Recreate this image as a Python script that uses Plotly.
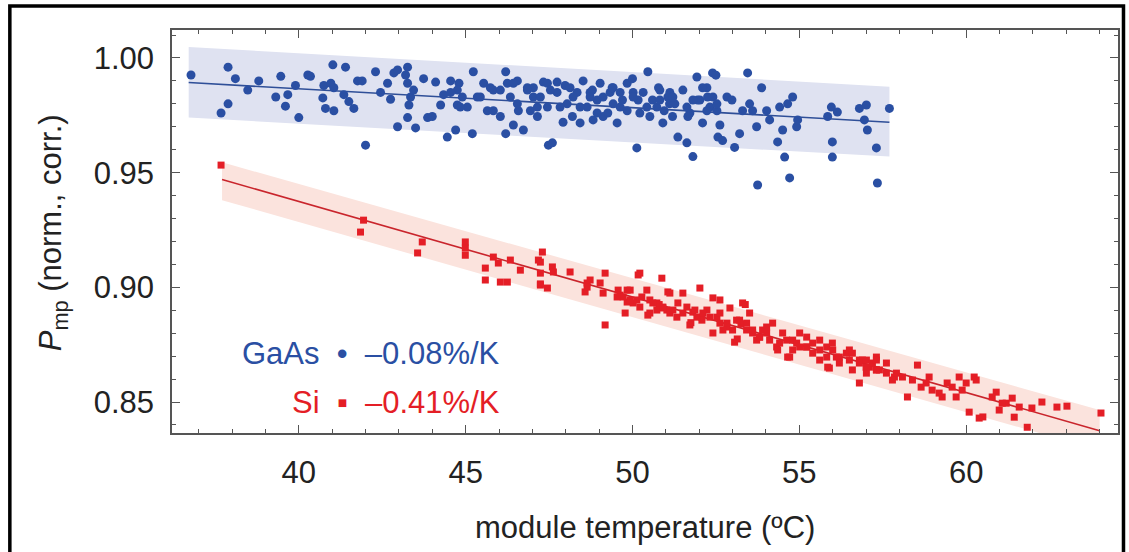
import plotly.graph_objects as go

# ---------------- data ----------------
gaas_temp = [36.77, 37.88, 37.67, 37.88, 38.1, 38.47, 38.8, 39.31, 39.46, 39.6, 39.67, 39.9, 40.0, 40.27, 40.35,
             40.72, 40.75, 40.96, 41.02, 41.05, 40.8, 41.05, 41.4, 41.35, 41.5, 41.65, 41.76, 41.9, 42.0, 42.3,
             42.45, 42.66, 42.75, 42.85, 42.96, 43.26, 43.5, 43.35, 43.3, 43.26, 43.2, 42.96, 43.26, 43.44, 43.74,
             43.86, 44.0, 44.1, 44.25, 44.34, 44.45, 44.55, 44.7, 44.75, 44.8, 44.9, 45.05, 45.2, 45.23, 45.35,
             45.54, 45.65, 45.83, 46.04, 46.2, 46.2, 46.25, 46.34, 46.43, 46.55, 46.58, 46.73, 46.85, 46.94, 47.03,
             47.15, 47.33, 47.45, 47.48, 47.6, 47.74, 47.92, 47.98, 48.04, 48.13, 48.2, 48.34, 48.43, 48.52, 48.64,
             48.73, 48.8, 48.82, 48.94, 49.03, 49.12, 49.26, 49.33, 49.39, 49.54, 49.63, 49.7, 49.84, 50.0, 50.02,
             50.13, 50.17, 50.22, 50.32, 50.46, 50.52, 50.6, 50.73, 50.78, 50.82, 50.91, 50.95, 51.06, 51.11, 51.2,
             51.27, 51.36, 51.51, 51.63, 51.66, 51.72, 51.81, 51.93, 51.95, 52.02, 52.1, 52.23, 52.25, 52.32, 52.4,
             52.5, 52.53, 52.56, 52.62, 52.7, 52.83, 52.98, 53.06, 53.21, 53.3, 53.45, 53.51, 53.6, 53.72, 53.75,
             53.87, 54.02, 54.11, 54.35, 54.41, 54.5, 54.56, 54.65, 54.71, 54.8, 54.92, 54.95, 55.85, 55.96, 55.99,
             55.99, 56.14, 56.8, 57.01, 56.95, 57.04, 57.31, 57.34, 57.7,
             44.75, 44.84, 45.74, 45.83, 46.43, 46.55, 47.03, 47.15, 47.45, 47.74, 48.94, 49.42, 49.84, 51.12,
             52.1, 52.41,
             44.55, 45.44, 46.04, 46.85, 47.24, 47.54, 47.83, 48.22, 48.43, 48.73, 49.12, 49.42, 49.63, 50.02,
             50.43, 50.82, 51.21, 51.63, 51.81, 52.23, 52.53]
gaas_pmp = [0.9926, 0.996, 0.976, 0.980, 0.991, 0.986, 0.990, 0.983, 0.992, 0.979, 0.984, 0.988, 0.974, 0.9926, 0.992,
            0.9826, 0.988, 0.989, 0.997, 0.987, 0.978, 0.977, 0.996, 0.984, 0.981, 0.978, 0.990, 0.990, 0.962, 0.994,
            0.985, 0.989, 0.982, 0.9935, 0.970, 0.974, 0.9695, 0.983, 0.9795, 0.989, 0.9926, 0.9948, 0.996, 0.986, 0.991,
            0.974, 0.9745, 0.9895, 0.9795, 0.984, 0.9655, 0.990, 0.9686, 0.9795, 0.989, 0.983, 0.9786, 0.967, 0.994, 0.983,
            0.989, 0.977, 0.986, 0.9745, 0.994, 0.967, 0.989, 0.983, 0.9708, 0.990, 0.977, 0.9686, 0.987, 0.977, 0.983,
            0.9745, 0.9895, 0.9786, 0.962, 0.963, 0.9895, 0.972, 0.988, 0.980, 0.987, 0.9745, 0.985, 0.9717, 0.990, 0.9786,
            0.985, 0.986, 0.973, 0.9817, 0.989, 0.9745, 0.976, 0.985, 0.987, 0.9717, 0.9786, 0.9817, 0.989, 0.991, 0.985,
            0.9608, 0.9817, 0.976, 0.985, 0.994, 0.9745, 0.9817, 0.9786, 0.987, 0.986, 0.9717, 0.977, 0.983, 0.980, 0.9745,
            0.980, 0.9655, 0.986, 0.963, 0.9745, 0.976, 0.957, 0.9917, 0.9817, 0.9817, 0.9717, 0.987, 0.983, 0.9786, 0.9935,
            0.9925, 0.977, 0.9655, 0.9708, 0.964, 0.983, 0.9817, 0.961, 0.967, 0.977, 0.9935, 0.980, 0.977, 0.970, 0.9446,
            0.987, 0.977, 0.973, 0.9634, 0.9786, 0.9686, 0.9568, 0.980, 0.9477, 0.983, 0.970, 0.973, 0.9745, 0.9786, 0.9634,
            0.9568, 0.9764, 0.978, 0.9795, 0.973, 0.9686, 0.9608, 0.9455, 0.978,
            0.986, 0.9786, 0.987, 0.977, 0.989, 0.980, 0.987, 0.9786, 0.989, 0.985, 0.976, 0.987, 0.977, 0.985,
            0.987, 0.983,
            0.985, 0.983, 0.986, 0.986, 0.983, 0.986, 0.9786, 0.983, 0.9786, 0.983, 0.983, 0.980, 0.985, 0.983,
            0.9786, 0.9817, 0.983, 0.9786, 0.9817, 0.977, 0.980]

si_temp = [37.67, 41.94, 41.85, 43.56, 43.7, 44.99, 44.99, 44.99, 45.59, 45.59, 45.83, 45.98, 46.04, 46.25, 46.34,
           46.64, 47.18, 47.24, 47.3, 47.24, 47.45, 47.6, 47.63, 48.13, 48.58, 48.64, 48.73, 49.03, 49.12, 49.18,
           49.18, 49.57, 49.63, 49.78, 49.84, 49.84, 50.13, 50.17, 50.22, 50.28, 50.43, 50.46, 50.52, 50.52, 50.73,
           50.8, 50.88, 50.91, 51.03, 51.06, 51.12, 51.12, 51.33, 51.51, 51.63, 51.72, 51.75, 51.81, 51.87, 52.02,
           52.08, 52.08, 52.23, 52.41, 52.41, 52.53, 52.62, 52.62, 52.83, 52.83, 52.92, 53.06, 53.14, 53.21, 53.25,
           53.3, 53.38, 53.42, 53.51, 53.6, 53.72, 53.81, 53.9, 54.02, 54.2, 54.32, 54.35, 54.5, 54.65, 54.71,
           54.8, 55.01, 55.01, 55.22, 55.22, 55.4, 55.61, 55.61, 55.82, 55.85, 55.9, 55.99, 56.11, 56.2, 56.41,
           56.5, 56.59, 56.8, 56.8, 56.89, 57.01, 57.1, 57.31, 57.31, 57.4, 57.61, 57.85, 57.91, 58.24, 58.54,
           58.65, 58.89, 59.19, 59.43, 59.7, 59.79, 60.0, 60.09, 60.24, 60.39, 60.5, 60.9, 60.99, 61.2, 61.38,
           61.44, 61.83, 61.97, 62.27, 62.72, 62.84, 63.02, 64.04,
           49.72, 49.93, 50.02, 50.22, 50.61, 50.73, 50.91, 51.21, 51.36, 51.51, 51.93, 52.11, 52.32, 52.62,
           52.71, 53.0, 53.12, 53.42, 53.6, 53.81, 54.02, 54.11, 54.41, 54.62, 54.8, 54.92, 55.22, 55.4,
           55.61, 55.82, 56.0, 56.2, 56.5, 56.59, 56.8, 57.01, 57.19, 57.31,
           57.0, 57.31, 57.61, 57.79, 58.09, 58.39, 58.8, 58.98, 59.28, 59.58, 59.88, 60.3, 60.78, 61.08, 61.59,
           47.24, 47.24, 48.64, 49.54, 49.93]
si_pmp = [0.9533, 0.9293, 0.9241, 0.915, 0.9198, 0.9198, 0.9171, 0.914, 0.9084, 0.9032, 0.9132, 0.9106, 0.9023, 0.9023, 0.9119,
          0.9075, 0.9119, 0.9062, 0.9154, 0.901, 0.8997, 0.9089, 0.9067, 0.9067, 0.898, 0.9019, 0.9032, 0.9019, 0.8975, 0.9062,
          0.8836, 0.8988, 0.8966, 0.8888, 0.8988, 0.8936, 0.8945, 0.9054, 0.9062, 0.8958, 0.8988, 0.8879, 0.8945, 0.8888, 0.8932,
          0.8925, 0.904, 0.891, 0.8901, 0.898, 0.8975, 0.8888, 0.887, 0.8975, 0.8914, 0.8836, 0.8846, 0.8892, 0.8901, 0.8997,
          0.887, 0.8857, 0.8901, 0.8801, 0.8954, 0.887, 0.8888, 0.8945, 0.8844, 0.8827, 0.891, 0.8761, 0.8775, 0.8857, 0.884,
          0.8932, 0.8925, 0.8814, 0.8888, 0.8814, 0.877, 0.8783, 0.8814, 0.8827, 0.8844, 0.874, 0.8727, 0.8801, 0.8696, 0.8696,
          0.877, 0.8801, 0.874, 0.874, 0.8783, 0.8713, 0.877, 0.8683, 0.874, 0.8652, 0.8648, 0.8757, 0.8696, 0.8696, 0.8713,
          0.8727, 0.864, 0.8583, 0.8683, 0.8683, 0.8683, 0.8652, 0.864, 0.8696, 0.864, 0.867, 0.8609, 0.8626, 0.8522, 0.8661,
          0.8565, 0.8609, 0.8539, 0.8583, 0.8522, 0.8609, 0.8583, 0.8456, 0.8609, 0.843, 0.8435, 0.8543, 0.8465, 0.8495, 0.8517,
          0.8434, 0.839, 0.8474, 0.85, 0.8478, 0.8347, 0.8482, 0.8452,
          0.8958, 0.8988, 0.8932, 0.8914, 0.8932, 0.8901, 0.8914, 0.8901, 0.8932, 0.8888, 0.887, 0.8888, 0.887, 0.8844,
          0.8814, 0.8814, 0.8857, 0.8844, 0.8801, 0.8783, 0.8801, 0.877, 0.8757, 0.877, 0.8727, 0.8757, 0.874, 0.8757,
          0.8727, 0.8696, 0.8727, 0.867, 0.8683, 0.8713, 0.867, 0.8626, 0.867, 0.864,
          0.8652, 0.8683, 0.8626, 0.8596, 0.8609, 0.8596, 0.8583, 0.8552, 0.8522, 0.8565, 0.8552, 0.8596, 0.8522, 0.8495, 0.8478,
          0.911, 0.9015, 0.9001, 0.8958, 0.8945]

# linear fits and confidence bands
gaas_fit_temp = [36.7, 57.7]
gaas_fit_pmp = [0.9893, 0.9720]
gaas_band_upper = [1.0048, 0.9875]
gaas_band_lower = [0.9740, 0.9570]

si_fit_temp = [37.7, 64.0]
si_fit_pmp = [0.9470, 0.8375]
si_band_upper = [0.9545, 0.8465]
si_band_lower = [0.9380, 0.8290]

x_ticks = [40, 45, 50, 55, 60]
y_ticks = [0.85, 0.90, 0.95, 1.00]

gaas_label = "GaAs"
gaas_coef = "\u20130.08%/K"
si_label = "Si"
si_coef = "\u20130.41%/K"

# ---------------- figure ----------------
BLUE = "#2a4fa3"
RED = "#e41e26"
FONT = "Liberation Sans, Arial, Helvetica, sans-serif"
FS = 31

fig = go.Figure()

# bands
fig.add_trace(go.Scatter(x=gaas_fit_temp + gaas_fit_temp[::-1],
                         y=gaas_band_upper + gaas_band_lower[::-1],
                         fill="toself", fillcolor="#dfe2f1", line=dict(width=0),
                         mode="lines", hoverinfo="skip", showlegend=False))
fig.add_trace(go.Scatter(x=si_fit_temp + si_fit_temp[::-1],
                         y=si_band_upper + si_band_lower[::-1],
                         fill="toself", fillcolor="#fbe3dd", line=dict(width=0),
                         mode="lines", hoverinfo="skip", showlegend=False))
# fit lines
fig.add_trace(go.Scatter(x=gaas_fit_temp, y=gaas_fit_pmp, mode="lines",
                         line=dict(color="#2f4f98", width=1.6), showlegend=False))
fig.add_trace(go.Scatter(x=si_fit_temp, y=si_fit_pmp, mode="lines",
                         line=dict(color="#c9252c", width=1.6), showlegend=False))
# points
fig.add_trace(go.Scatter(x=gaas_temp, y=gaas_pmp, mode="markers", name="GaAs",
                         marker=dict(symbol="circle", size=9, color=BLUE, line=dict(width=0)),
                         showlegend=False))
fig.add_trace(go.Scatter(x=si_temp, y=si_pmp, mode="markers", name="Si",
                         marker=dict(symbol="square", size=7, color=RED, line=dict(width=0)),
                         showlegend=False, cliponaxis=False))

axis_common = dict(
    showline=True, linecolor="#555555", linewidth=1.5, mirror="ticks",
    ticks="inside", ticklen=8, tickwidth=1.2, tickcolor="#555555",
    showgrid=False, zeroline=False,
    tickfont=dict(family=FONT, size=FS, color="#222222"),
)

fig.update_xaxes(range=[36.2, 64.55], tickvals=x_ticks, ticklabelstandoff=11,
                 minor=dict(ticks="inside", dtick=1, ticklen=4, tickcolor="#555555", tickwidth=1),
                 **axis_common)
fig.update_yaxes(range=[0.8365, 1.0122], tickvals=y_ticks, tickformat=".2f", ticklabelstandoff=10,
                 minor=dict(ticks="inside", dtick=0.01, ticklen=4, tickcolor="#555555", tickwidth=1),
                 **axis_common)

PL, PR, PT, PB = 172, 1120, 30, 433
W, H = 1129, 552
def px(x):
    return (x - PL) / (PR - PL)
def py(y):
    return (PB - y) / (PB - PT)

NB = "\u00a0"
annotations = [
    dict(x=px(53), y=py(233), xref="paper", yref="paper", textangle=-90,
         text="<i>P</i><sub>mp</sub> (norm., corr.)", showarrow=False,
         font=dict(family=FONT, size=FS, color="#222222"), xanchor="center", yanchor="middle"),
    dict(x=px(646), y=py(527), xref="paper", yref="paper",
         text="module temperature (\u00baC)", showarrow=False,
         font=dict(family=FONT, size=FS, color="#222222"), xanchor="center", yanchor="middle"),
    dict(x=px(503), y=py(353), xref="paper", yref="paper", xanchor="right", yanchor="middle",
         text=f"{gaas_label}{NB*2}\u2022{NB*2}{gaas_coef}", showarrow=False,
         font=dict(family=FONT, size=FS, color=BLUE)),
    dict(x=px(503), y=py(402), xref="paper", yref="paper", xanchor="right", yanchor="middle",
         text=f"{si_label}{NB*2}\u25aa{NB*2}{si_coef}", showarrow=False,
         font=dict(family=FONT, size=FS, color=RED)),
]

shapes = [
    dict(type="rect", xref="paper", yref="paper",
         x0=px(9.5), x1=px(1125.5), y0=py(575), y1=py(6),
         line=dict(color="black", width=3.5), fillcolor="rgba(0,0,0,0)", layer="above"),
]

fig.update_layout(
    width=W, height=H,
    margin=dict(l=PL, r=W - PR, t=PT, b=H - PB),
    paper_bgcolor="white", plot_bgcolor="white",
    annotations=annotations, shapes=shapes,
    showlegend=False,
)

fig.write_html("out.html", config={"displayModeBar": False},
               post_script="document.body.style.margin='0px';document.body.style.overflow='hidden';")
